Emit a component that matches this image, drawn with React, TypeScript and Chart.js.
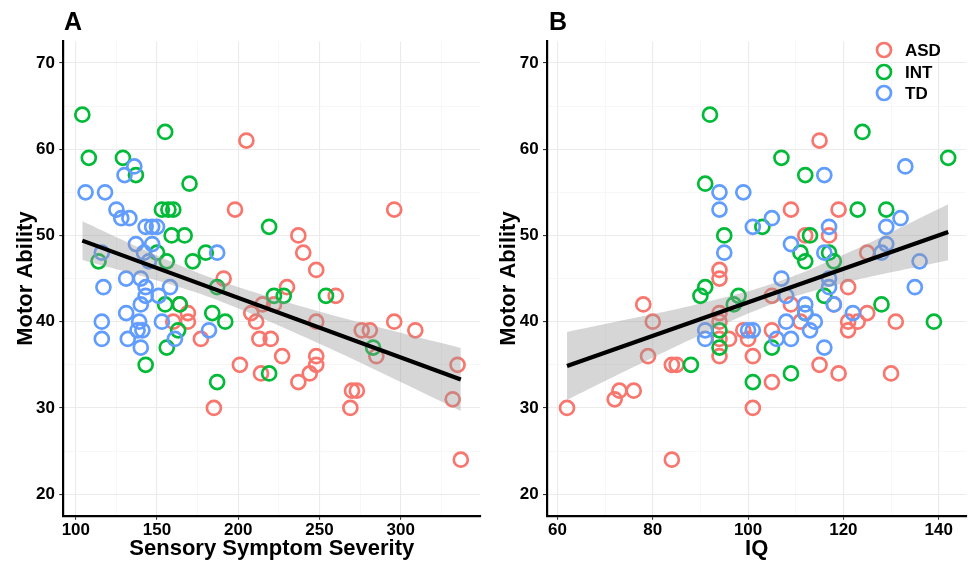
import React, { useEffect, useRef } from "react";
import { Chart, registerables } from "chart.js";
Chart.register(...registerables);

const FONT = "'Liberation Sans', Arial, Helvetica, sans-serif";
const COLORS: Record<string, string> = { ASD: "#F8766D", INT: "#00BA38", TD: "#619CFF" };
const GROUPS = ["ASD", "INT", "TD"];

// ---------- Panel A: Sensory Symptom Severity vs Motor Ability ----------
const sensoryASD = [205, 198, 296, 237, 240, 248, 191, 230, 260, 215, 222, 208, 211, 248, 296, 276, 281, 309, 213, 220, 177, 285, 227, 248, 248, 201, 335, 214, 244, 237, 270, 273, 332, 185, 269, 337, 164, 169, 160, 169];
const motorASD_A = [61, 53, 53, 50, 48, 46, 45, 44, 43, 42, 42, 41, 40, 40, 40, 39, 39, 39, 38, 38, 38, 36, 36, 36, 35, 35, 35, 34, 34, 33, 32, 32, 31, 30, 30, 24, 42, 41, 40, 40];
const sensoryINT = [104, 155, 108, 129, 137, 170, 153, 157, 160, 219, 159, 167, 150, 180, 114, 156, 172, 187, 222, 228, 254, 155, 164, 184, 192, 163, 156, 283, 143, 219, 187];
const motorINT_A = [64, 62, 59, 59, 57, 56, 53, 53, 53, 51, 50, 50, 48, 48, 47, 47, 47, 44, 43, 43, 43, 42, 42, 41, 40, 39, 37, 37, 35, 34, 33];
const sensoryTD = [136, 130, 106, 118, 125, 128, 133, 143, 147, 150, 137, 147, 142, 187, 116, 145, 131, 140, 117, 143, 158, 140, 143, 151, 131, 116, 139, 153, 138, 141, 182, 116, 132, 161, 140];
const motorTD_A = [58, 57, 55, 55, 53, 52, 52, 51, 51, 51, 49, 49, 48, 48, 48, 47, 45, 45, 44, 44, 44, 42, 43, 43, 41, 40, 40, 40, 39, 39, 39, 38, 38, 38, 37];

const fitSensX = [104, 337];
const fitSensY = [49.4, 33.3];
const bandSensX = [104, 150, 190, 250, 300, 337];
const bandSensUpper = [51.65, 47.68, 44.65, 41.18, 38.71, 36.95];
const bandSensLower = [47.15, 44.76, 42.28, 37.44, 33.0, 29.65];

// ---------- Panel B: IQ vs Motor Ability ----------
const iqASD = [115, 109, 119, 112, 117, 125, 94, 94, 121, 105, 78, 109, 118, 125, 94, 94, 80, 131, 123, 121, 111, 121, 99, 105, 100, 94, 96, 94, 101, 79, 84, 85, 115, 119, 130, 105, 73, 76, 72, 62, 101, 84];
const motorASD_B = [61, 53, 53, 50, 50, 48, 46, 45, 44, 43, 42, 42, 42, 41, 41, 40, 40, 40, 40, 40, 40, 39, 39, 39, 38, 38, 38, 36, 36, 36, 35, 35, 35, 34, 34, 33, 32, 32, 31, 30, 30, 24];
const iqINT = [92, 91, 95, 91, 90, 98, 97, 94, 94, 101, 88, 124, 107, 142, 112, 123, 129, 103, 113, 111, 117, 112, 118, 116, 128, 139, 105, 109, 112];
const motorINT_B = [64, 56, 50, 44, 43, 43, 42, 39, 37, 33, 35, 62, 59, 59, 57, 53, 53, 51, 50, 48, 48, 47, 47, 43, 42, 40, 37, 34, 41];
const iqTD = [94, 99, 94, 101, 95, 133, 116, 132, 105, 117, 129, 109, 129, 116, 128, 136, 107, 117, 117, 135, 108, 122, 118, 112, 112, 114, 113, 108, 106, 109, 101, 91, 91, 100, 116];
const motorTD_B = [55, 55, 53, 51, 48, 58, 57, 52, 52, 51, 51, 49, 49, 48, 48, 47, 45, 45, 44, 44, 43, 41, 42, 42, 41, 40, 39, 40, 38, 38, 39, 39, 38, 39, 37];

const fitIQX = [62, 142];
const fitIQY = [34.86, 50.4];
const bandIQX = [62, 75, 90, 106, 120, 130, 142];
const bandIQUpper = [38.81, 40.3, 42.12, 44.58, 47.76, 50.38, 53.63];
const bandIQLower = [30.91, 34.47, 38.46, 42.22, 44.46, 45.72, 47.13];

// ---------- Axes ----------
const yTicks = [20, 25, 30, 35, 40, 45, 50, 55, 60, 65, 70];
const yMajor = [20, 30, 40, 50, 60, 70];
const sensTicks = [100, 125, 150, 175, 200, 225, 250, 275, 300, 325];
const sensMajor = [100, 150, 200, 250, 300];
const iqTicks = [60, 70, 80, 90, 100, 110, 120, 130, 140];
const iqMajor = [60, 80, 100, 120, 140];

const pts = (xs: number[], ys: number[]) => xs.map((x, i) => ({ x, y: ys[i] }));

type PanelCfg = {
  letter: string;
  xTitle: string;
  xs: number[][];
  ys: number[][];
  fitX: number[];
  fitY: number[];
  bandX: number[];
  bandU: number[];
  bandL: number[];
  xMin: number;
  xMax: number;
  xTicks: number[];
  xMajor: number[];
  yAxisWidth: number;
  yTitlePad: number;
  letterX: number;
  legend: boolean;
  width: number;
};

function makeConfig(p: PanelCfg): any {
  const pointSets = GROUPS.map((g, gi) => ({
    type: "scatter",
    label: g,
    data: pts(p.xs[gi], p.ys[gi]),
    borderColor: COLORS[g],
    backgroundColor: "rgba(0,0,0,0)",
    pointRadius: 7,
    pointBorderWidth: 2.7,
    pointHoverRadius: 7,
    showLine: false,
    order: 4 - gi,
  }));
  const bandFill = "rgba(153,153,153,0.4)";
  const datasets: any[] = [
    {
      type: "line",
      label: "fit",
      data: pts(p.fitX, p.fitY),
      borderColor: "#000",
      borderWidth: 4.2,
      pointRadius: 0,
      fill: false,
      order: 0,
    },
    {
      type: "line",
      label: "upper",
      data: pts(p.bandX, p.bandU),
      borderColor: "rgba(0,0,0,0)",
      borderWidth: 0,
      backgroundColor: bandFill,
      pointRadius: 0,
      fill: "+1",
      tension: 0.4,
      order: 1,
    },
    {
      type: "line",
      label: "lower",
      data: pts(p.bandX, p.bandL),
      borderColor: "rgba(0,0,0,0)",
      borderWidth: 0,
      pointRadius: 0,
      fill: false,
      tension: 0.4,
      order: 1,
    },
    ...pointSets,
  ];

  const decor = {
    id: "decor",
    afterDraw(chart: any) {
      const ctx = chart.ctx;
      ctx.save();
      ctx.fillStyle = "#000";
      ctx.font = `bold 25px ${FONT}`;
      ctx.textBaseline = "alphabetic";
      ctx.textAlign = "left";
      ctx.fillText(p.letter, p.letterX, 29.5);
      if (p.legend) {
        const cx = 884 - 490;
        const tx = 905 - 490;
        const rows = [50, 72, 93];
        GROUPS.forEach((g, i) => {
          ctx.beginPath();
          ctx.strokeStyle = COLORS[g];
          ctx.lineWidth = 2.7;
          ctx.arc(cx, rows[i], 7, 0, Math.PI * 2);
          ctx.stroke();
          ctx.fillStyle = "#000";
          ctx.font = `bold 17px ${FONT}`;
          ctx.textBaseline = "middle";
          ctx.fillText(g, tx, rows[i] + 1);
        });
      }
      ctx.restore();
    },
  };

  const gridFor = (major: number[]) => ({
    color: (c: any) => (c.tick && major.includes(c.tick.value) ? "#EBEBEB" : "#F4F4F4"),
    lineWidth: (c: any) => (c.tick && major.includes(c.tick.value) ? 1.1 : 0.7),
    tickColor: (c: any) => (c.tick && major.includes(c.tick.value) ? "#333333" : "rgba(0,0,0,0)"),
    tickWidth: 1.1,
    tickLength: 4,
    drawTicks: true,
  });

  return {
    type: "scatter",
    data: { datasets },
    plugins: [decor],
    options: {
      animation: false,
      responsive: false,
      events: [],
      layout: { padding: { top: 41.4, right: 5, left: 0, bottom: 0 } },
      plugins: {
        legend: { display: false },
        tooltip: { enabled: false },
        title: { display: false },
      },
      scales: {
        x: {
          type: "linear",
          min: p.xMin,
          max: p.xMax,
          afterBuildTicks: (s: any) => {
            s.ticks = p.xTicks.map((v) => ({ value: v }));
          },
          afterFit: (s: any) => {
            s.height = 563 - 515.7;
          },
          grid: gridFor(p.xMajor),
          border: { display: true, color: "#000", width: 2.2 },
          ticks: {
            autoSkip: false,
            maxRotation: 0,
            padding: 0,
            color: "#000",
            font: { family: FONT, size: 17, weight: "bold", lineHeight: 1.2 },
            callback: (v: any) => (p.xMajor.includes(v) ? String(v) : ""),
          },
          title: {
            display: true,
            text: p.xTitle,
            color: "#000",
            font: { family: FONT, size: 22, weight: "bold", lineHeight: 1 },
            padding: { top: 0, bottom: 3.3 },
          },
        },
        y: {
          type: "linear",
          min: 17.5,
          max: 72.5,
          afterBuildTicks: (s: any) => {
            s.ticks = yTicks.map((v) => ({ value: v }));
          },
          afterFit: (s: any) => {
            s.width = p.yAxisWidth;
          },
          grid: gridFor(yMajor),
          border: { display: true, color: "#000", width: 2.2 },
          ticks: {
            autoSkip: false,
            padding: 4.3,
            color: "#000",
            font: { family: FONT, size: 17, weight: "bold", lineHeight: 1.2 },
            callback: (v: any) => (yMajor.includes(v) ? String(v) : ""),
          },
          title: {
            display: true,
            text: "Motor Ability",
            color: "#000",
            font: { family: FONT, size: 22, weight: "bold", lineHeight: 1 },
            padding: { top: p.yTitlePad, bottom: 0 },
          },
        },
      },
    },
  };
}

const panelA: PanelCfg = {
  letter: "A",
  xTitle: "Sensory Symptom Severity",
  xs: [sensoryASD, sensoryINT, sensoryTD],
  ys: [motorASD_A, motorINT_A, motorTD_A],
  fitX: fitSensX,
  fitY: fitSensY,
  bandX: bandSensX,
  bandU: bandSensUpper,
  bandL: bandSensLower,
  xMin: 92.3,
  xMax: 349,
  xTicks: sensTicks,
  xMajor: sensMajor,
  yAxisWidth: 63.3,
  yTitlePad: 15,
  letterX: 64,
  legend: false,
  width: 490,
};

const panelB: PanelCfg = {
  letter: "B",
  xTitle: "IQ",
  xs: [iqASD, iqINT, iqTD],
  ys: [motorASD_B, motorINT_B, motorTD_B],
  fitX: fitIQX,
  fitY: fitIQY,
  bandX: bandIQX,
  bandU: bandIQUpper,
  bandL: bandIQLower,
  xMin: 57.8,
  xMax: 145.8,
  xTicks: iqTicks,
  xMajor: iqMajor,
  yAxisWidth: 57,
  yTitlePad: 8,
  letterX: 549 - 490,
  legend: true,
  width: 486,
};

function Panel({ cfg, left }: { cfg: PanelCfg; left: number }) {
  const ref = useRef<HTMLCanvasElement>(null);
  useEffect(() => {
    if (!ref.current) return;
    const chart = new Chart(ref.current, makeConfig(cfg));
    return () => chart.destroy();
  }, [cfg]);
  return (
    <canvas
      ref={ref}
      width={cfg.width}
      height={563}
      style={{ position: "absolute", left, top: 0, width: cfg.width, height: 563 }}
    />
  );
}

export default function App() {
  return (
    <div style={{ position: "fixed", left: 0, top: 0, width: 976, height: 563, background: "#fff", overflow: "hidden" }}>
      <Panel cfg={panelA} left={0} />
      <Panel cfg={panelB} left={490} />
    </div>
  );
}
